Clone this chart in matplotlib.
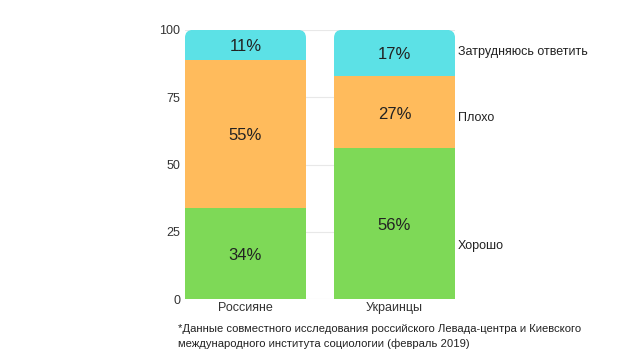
import numpy as np
import matplotlib.pyplot as plt
from matplotlib.patches import FancyBboxPatch, Rectangle

plt.rcParams['font.family'] = ['Liberation Sans', 'DejaVu Sans']

groups = ["Россияне", "Украинцы"]
good = [34, 56]
bad = [55, 27]
unsure = [11, 17]
series_names = ["Хорошо", "Плохо", "Затрудняюсь ответить"]
colors = ["#7ed957", "#ffbb5c", "#5ce1e6"]
note = ("*Данные совместного исследования российского Левада-центра и Киевского\n"
        "международного института социологии (февраль 2019)")

fig = plt.figure(figsize=(6.4, 3.6), dpi=100)
ax = fig.add_axes([0.289, 0.169, 0.422, 0.748])

x = np.arange(len(groups))
w = 0.812
ax.set_xlim(-w / 2, len(groups) - 1 + w / 2)
ax.set_ylim(0, 100)

# pixel -> data scale for rounding top corners
px_x = 1 / 149.0
px_y = 1 / 2.69
r = 8

bottom = np.zeros(len(groups))
layers = [good, bad, unsure]
for k, vals in enumerate(layers):
    vals = np.array(vals, dtype=float)
    for i in range(len(groups)):
        x0 = x[i] - w / 2
        if k == len(layers) - 1:
            p = FancyBboxPatch((x0, bottom[i]), w, vals[i],
                               boxstyle="round,pad=0,rounding_size=%f" % (r * px_x),
                               mutation_aspect=px_y / px_x,
                               fc=colors[k], ec="none", zorder=2)
            ax.add_patch(p)
            ax.add_patch(Rectangle((x0, bottom[i]), w, vals[i] / 2,
                                   fc=colors[k], ec="none", zorder=2))
        else:
            ax.add_patch(Rectangle((x0, bottom[i]), w, vals[i],
                                   fc=colors[k], ec="none", zorder=2))
        ax.text(x[i], bottom[i] + vals[i] / 2 - 0.8, "%d%%" % vals[i],
                ha="center", va="center", fontsize=12, color="#222222", zorder=3)
    bottom += vals

# series labels on the right
label_y = [19.7, 67.3, 91.8]
for name, yy in zip(series_names, label_y):
    ax.text(len(groups) - 1 + w / 2 + 0.02, yy, name, ha="left", va="center",
            fontsize=9, color="#222222")

ax.set_yticks([0, 25, 50, 75, 100])
ax.set_xticks(x)
ax.set_xticklabels(groups)
ax.tick_params(length=0, labelsize=9, colors="#333333")
ax.tick_params(axis="x", pad=2)
ax.grid(axis="y", color="#e8e8e8", lw=0.8, zorder=0)
for s in ax.spines.values():
    s.set_visible(False)

fig.text(178 / 640, 1 - 336.5 / 360, note, ha="left", va="center",
         fontsize=8.15, color="#222222", linespacing=1.6)

fig.savefig("out.png", dpi=100)
